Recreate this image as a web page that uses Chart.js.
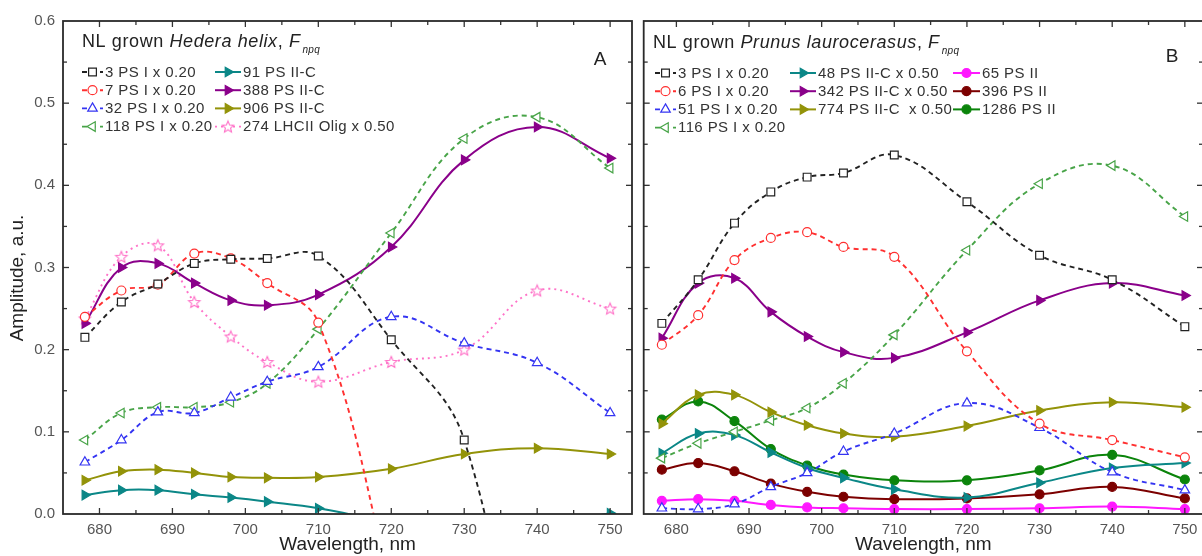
<!DOCTYPE html>
<html><head><meta charset="utf-8">
<script src="https://cdn.jsdelivr.net/npm/chart.js@4/dist/chart.umd.min.js"></script>
<style>
html,body{margin:0;padding:0;background:#fff;overflow:hidden;width:1202px;height:556px;}
#wrap{position:relative;width:1202px;height:556px;overflow:hidden;background:#fff;}
canvas{position:absolute;top:0;}
#cA{left:0;}
#cB{left:637px;}
</style></head><body>
<div id="wrap"><canvas id="cA" width="640" height="556"></canvas><canvas id="cB" width="575" height="556"></canvas></div>
<script>
const FONT = "'Liberation Sans', Arial, sans-serif";

// ---- shared axes ----
const wavelengths = [678, 683, 688, 693, 698, 703, 710, 720, 730, 740, 750];
const xTicks = [680, 690, 700, 710, 720, 730, 740, 750];
const xMinorTicks = [675, 685, 695, 705, 715, 725, 735, 745];
const yTicks = [0, 0.1, 0.2, 0.3, 0.4, 0.5, 0.6];
const yTickLabels = ['0.0', '0.1', '0.2', '0.3', '0.4', '0.5', '0.6'];
const yMinorTicks = [0.05, 0.15, 0.25, 0.35, 0.45, 0.55];

// ---- panel A: Hedera helix ----
const labelsA = ['3 PS I x 0.20', '7 PS I x 0.20', '32 PS I x 0.20', '118 PS I x 0.20',
                 '91 PS II-C', '388 PS II-C', '906 PS II-C', '274 LHCII Olig x 0.50'];
const a_psI_3    = [0.215, 0.258, 0.280, 0.305, 0.310, 0.311, 0.314, 0.212, 0.090, -0.35, -0.70];
const a_psI_7    = [0.240, 0.272, 0.279, 0.317, 0.311, 0.281, 0.233, -0.09, -0.45, -0.80, -1.00];
const a_psI_32   = [0.063, 0.090, 0.124, 0.123, 0.142, 0.161, 0.179, 0.240, 0.208, 0.184, 0.123];
const a_psI_118  = [0.090, 0.123, 0.130, 0.130, 0.136, 0.159, 0.225, 0.342, 0.457, 0.483, 0.421];
const a_psIIC_91 = [0.023, 0.029, 0.029, 0.024, 0.020, 0.015, 0.007, -0.010, -0.020, -0.015, 0.001];
const a_psIIC_388= [0.232, 0.300, 0.305, 0.281, 0.260, 0.254, 0.267, 0.325, 0.431, 0.471, 0.433];
const a_psIIC_906= [0.041, 0.052, 0.054, 0.050, 0.045, 0.044, 0.045, 0.055, 0.073, 0.080, 0.073];
const a_lhcii_274= [0.238, 0.313, 0.327, 0.258, 0.216, 0.185, 0.161, 0.185, 0.200, 0.272, 0.250];

// ---- panel B: Prunus laurocerasus ----
const labelsB = ['3 PS I x 0.20', '6 PS I x 0.20', '51 PS I x 0.20', '116 PS I x 0.20',
                 '48 PS II-C x 0.50', '342 PS II-C x 0.50', '774 PS II-C  x 0.50',
                 '65 PS II', '396 PS II', '1286 PS II'];
const b_psI_3     = [0.232, 0.285, 0.354, 0.392, 0.410, 0.415, 0.437, 0.380, 0.315, 0.285, 0.228];
const b_psI_6     = [0.206, 0.242, 0.309, 0.336, 0.343, 0.325, 0.313, 0.198, 0.110, 0.090, 0.069];
const b_psI_51    = [0.007, 0.006, 0.012, 0.033, 0.050, 0.076, 0.098, 0.135, 0.105, 0.051, 0.029];
const b_psI_116   = [0.068, 0.086, 0.100, 0.114, 0.129, 0.159, 0.218, 0.321, 0.402, 0.424, 0.362];
const b_psIIC_48  = [0.074, 0.098, 0.096, 0.075, 0.056, 0.044, 0.030, 0.020, 0.038, 0.056, 0.062];
const b_psIIC_342 = [0.214, 0.281, 0.287, 0.246, 0.216, 0.197, 0.190, 0.221, 0.260, 0.281, 0.266];
const b_psIIC_774 = [0.110, 0.145, 0.145, 0.124, 0.108, 0.098, 0.094, 0.107, 0.126, 0.136, 0.130];
const b_psII_65   = [0.016, 0.018, 0.016, 0.011, 0.008, 0.007, 0.006, 0.006, 0.007, 0.009, 0.006];
const b_psII_396  = [0.054, 0.062, 0.052, 0.037, 0.027, 0.021, 0.018, 0.019, 0.024, 0.033, 0.019];
const b_psII_1286 = [0.115, 0.137, 0.113, 0.079, 0.059, 0.048, 0.041, 0.041, 0.053, 0.072, 0.042];

const COL = { black:'#222222', red:'#ff3030', blue:'#3434f2', green:'#48a448', teal:'#0b8787',
  purple:'#8a008a', olive:'#939309', pink:'#ff72c8', magenta:'#ff18ff', darkred:'#7c0000', dgreen:'#0b840b' };

function starImg(color, r) {
  const s = Math.ceil(r * 2 + 4);
  const c = document.createElement('canvas'); c.width = s; c.height = s;
  const g = c.getContext('2d'); g.translate(s / 2, s / 2 + 0.5);
  g.beginPath();
  for (let i = 0; i < 10; i++) {
    const rr = i % 2 ? r * 0.45 : r, a = -Math.PI / 2 + i * Math.PI / 5;
    g.lineTo(rr * Math.cos(a), rr * Math.sin(a));
  }
  g.closePath(); g.fillStyle = '#fff'; g.fill(); g.strokeStyle = color; g.lineWidth = 1.1; g.stroke();
  return c;
}

const M = {
  sq: { style: 'rect', r: 5.5, filled: false },
  ci: { style: 'circle', r: 4.5, filled: false },
  up: { style: 'triangle', r: 5.5, filled: false, rot: 0 },
  lt: { style: 'triangle', r: 5.5, filled: false, rot: 270 },
  rt: { style: 'triangle', r: 5.5, filled: true, rot: 90 },
  dot:{ style: 'circle', r: 4.5, filled: true },
};

function mk(label, vals, color, line, m) {
  return {
    label,
    data: wavelengths.map((w, i) => ({ x: w, y: vals[i] })),
    borderColor: color, backgroundColor: color,
    borderWidth: line === 'solid' ? 2 : 1.9,
    borderDash: line === 'dash' ? [5, 4] : line === 'dot' ? [2, 4] : [],
    tension: 0.4,
    pointStyle: m.style, pointRotation: m.rot || 0, pointRadius: m.r,
    pointBackgroundColor: m.filled ? color : '#fff', pointBorderColor: color, pointBorderWidth: 1.2,
    clip: { left: 8, right: 8, top: 8, bottom: 0 },
  };
}

const starPink = starImg(COL.pink, 6);

const datasetsA = [
  mk(labelsA[0], a_psI_3, COL.black, 'dash', M.sq),
  mk(labelsA[1], a_psI_7, COL.red, 'dash', M.ci),
  mk(labelsA[2], a_psI_32, COL.blue, 'dash', M.up),
  mk(labelsA[3], a_psI_118, COL.green, 'dash', M.lt),
  mk(labelsA[4], a_psIIC_91, COL.teal, 'solid', M.rt),
  mk(labelsA[5], a_psIIC_388, COL.purple, 'solid', M.rt),
  mk(labelsA[6], a_psIIC_906, COL.olive, 'solid', M.rt),
  mk(labelsA[7], a_lhcii_274, COL.pink, 'dot', { style: starPink, r: 6, filled: false }),
];
const datasetsB = [
  mk(labelsB[0], b_psI_3, COL.black, 'dash', M.sq),
  mk(labelsB[1], b_psI_6, COL.red, 'dash', M.ci),
  mk(labelsB[2], b_psI_51, COL.blue, 'dash', M.up),
  mk(labelsB[3], b_psI_116, COL.green, 'dash', M.lt),
  mk(labelsB[4], b_psIIC_48, COL.teal, 'solid', M.rt),
  mk(labelsB[5], b_psIIC_342, COL.purple, 'solid', M.rt),
  mk(labelsB[6], b_psIIC_774, COL.olive, 'solid', M.rt),
  mk(labelsB[7], b_psII_65, COL.magenta, 'solid', M.dot),
  mk(labelsB[8], b_psII_396, COL.darkred, 'solid', M.dot),
  mk(labelsB[9], b_psII_1286, COL.dgreen, 'solid', M.dot),
];

// layout specs (canvas coordinates)
const specs = {
  cA: {
    title: { x: 82, y: 42, parts: [['NL grown ', 0], ['Hedera helix', 1], [', ', 0], ['F', 1]], sub: 'npq' },
    label: { t: 'A', x: 600, y: 60 },
    rows: { y0: 72, dy: 18.2 },
    cols: [ { x: 82, len: 21, items: [0, 1, 2, 3] }, { x: 215, len: 26, items: [4, 5, 6, 7] } ],
    yTitle: true,
  },
  cB: {
    title: { x: 16, y: 43, parts: [['NL grown ', 0], ['Prunus laurocerasus', 1], [', ', 0], ['F', 1]], sub: 'npq' },
    label: { t: 'B', x: 535, y: 57 },
    rows: { y0: 73, dy: 18.2 },
    cols: [ { x: 18, len: 21, items: [0, 1, 2, 3] }, { x: 153, len: 26, items: [4, 5, 6] }, { x: 316, len: 27, items: [7, 8, 9] } ],
    yTitle: false,
  }
};

function drawMarker(ctx, style, rot, x, y, r, fill, stroke) {
  ctx.save(); ctx.setLineDash([]); ctx.lineWidth = 1.2; ctx.fillStyle = fill; ctx.strokeStyle = stroke;
  if (style instanceof HTMLCanvasElement) { ctx.drawImage(style, x - style.width / 2, y - style.height / 2); ctx.restore(); return; }
  ctx.beginPath();
  if (style === 'rect') { const s = Math.SQRT1_2 * r; ctx.rect(x - s, y - s, 2 * s, 2 * s); }
  else if (style === 'circle') { ctx.arc(x, y, r, 0, Math.PI * 2); }
  else if (style === 'triangle') {
    let a = (rot || 0) * Math.PI / 180;
    for (let k = 0; k < 3; k++) { const px = x + Math.sin(a) * r, py = y - Math.cos(a) * r; if (k) ctx.lineTo(px, py); else ctx.moveTo(px, py); a += 2 * Math.PI / 3; }
    ctx.closePath();
  }
  ctx.fill(); ctx.stroke(); ctx.restore();
}

const panelPlugin = {
  id: 'panelDeco',
  afterDraw(chart) {
    const sp = specs[chart.canvas.id];
    const { ctx, chartArea: a } = chart;
    const xs = chart.scales.x, ys = chart.scales.y;
    ctx.save();
    ctx.strokeStyle = '#333'; ctx.lineWidth = 1.3; ctx.setLineDash([]);
    const seg = (x1, y1, x2, y2) => { ctx.beginPath(); ctx.moveTo(x1, y1); ctx.lineTo(x2, y2); ctx.stroke(); };
    const xt = (v, L) => { const p = xs.getPixelForValue(v); if (p < a.left + 1 || p > a.right - 1) return; seg(p, a.bottom, p, a.bottom - L); seg(p, a.top, p, a.top + L); };
    const yt = (v, L) => { const p = ys.getPixelForValue(v); if (p < a.top + 1 || p > a.bottom - 1) return; seg(a.left, p, a.left + L, p); seg(a.right, p, a.right - L, p); };
    xTicks.forEach(v => xt(v, 6)); xMinorTicks.forEach(v => xt(v, 4));
    yTicks.forEach(v => yt(v, 6)); yMinorTicks.forEach(v => yt(v, 4));
    ctx.lineWidth = 1.8; ctx.strokeStyle = '#2a2a2a';
    ctx.strokeRect(a.left, a.top, a.right - a.left, a.bottom - a.top);

    // panel letter
    ctx.fillStyle = '#222'; ctx.textBaseline = 'middle'; ctx.textAlign = 'center';
    ctx.font = `19px ${FONT}`;
    ctx.fillText(sp.label.t, sp.label.x, sp.label.y);

    // title with italics & subscript
    ctx.textAlign = 'left'; ctx.letterSpacing = '0.6px';
    let tx = sp.title.x;
    sp.title.parts.forEach(([t, it]) => {
      ctx.font = `${it ? 'italic ' : ''}18px ${FONT}`;
      ctx.fillText(t, tx, sp.title.y); tx += ctx.measureText(t).width;
    });
    ctx.font = `italic 10px ${FONT}`; ctx.letterSpacing = '0.3px';
    ctx.fillText(sp.title.sub, tx + 2, sp.title.y + 8);

    // legend
    ctx.font = `15px ${FONT}`; ctx.letterSpacing = '0.4px'; ctx.fillStyle = '#333';
    sp.cols.forEach(col => {
      col.items.forEach((di, r) => {
        const ds = chart.data.datasets[di];
        const y = sp.rows.y0 + r * sp.rows.dy;
        ctx.save();
        ctx.strokeStyle = ds.borderColor; ctx.lineWidth = ds.borderWidth; ctx.setLineDash(ds.borderDash || []);
        seg(col.x, y, col.x + col.len, y);
        ctx.restore();
        drawMarker(ctx, ds.pointStyle, ds.pointRotation, col.x + col.len / 2, y, ds.pointRadius,
                   ds.pointBackgroundColor, ds.pointBorderColor);
        ctx.fillStyle = '#333';
        ctx.fillText(ds.label, col.x + col.len + 2, y + 0.5);
      });
    });

    if (sp.yTitle) {
      ctx.letterSpacing = '0px';
      ctx.translate(18, 278); ctx.rotate(-Math.PI / 2);
      ctx.font = `19px ${FONT}`; ctx.fillStyle = '#222'; ctx.textAlign = 'center';
      ctx.fillText('Amplitude, a.u.', 0, 0);
    }
    ctx.restore();
  }
};

function makeChart(id, datasets, xmin, xmax, showY, padding) {
  return new Chart(document.getElementById(id), {
    type: 'line',
    data: { datasets },
    options: {
      responsive: false, animation: false, events: [],
      layout: { padding },
      plugins: { legend: { display: false }, tooltip: { enabled: false } },
      scales: {
        x: {
          type: 'linear', min: xmin, max: xmax,
          afterBuildTicks: s => { s.ticks = xTicks.map(v => ({ value: v })); },
          afterFit: s => { s.height = 42; },
          grid: { display: false, drawTicks: false }, border: { display: false },
          ticks: { font: { family: FONT, size: 15 }, color: '#555', padding: 7, maxRotation: 0, autoSkip: false, callback: v => String(v) },
          title: { display: true, text: 'Wavelength, nm', font: { family: FONT, size: 19 }, color: '#222', padding: { top: 0, bottom: 0 } },
        },
        y: {
          type: 'linear', min: 0, max: 0.6,
          afterBuildTicks: s => { s.ticks = yTicks.map(v => ({ value: v })); },
          afterFit: s => { s.width = showY ? 63 : 5; },
          grid: { display: false, drawTicks: false }, border: { display: false },
          ticks: { display: showY, font: { family: FONT, size: 15 }, color: '#555', padding: 8, callback: (v, i) => yTickLabels[i] },
        }
      }
    },
    plugins: [panelPlugin]
  });
}

makeChart('cA', datasetsA, 675, 753, true, { left: 0, right: 8, top: 21, bottom: 0 });
makeChart('cB', datasetsB, 675.5, 752.5, false, { left: 0, right: 9, top: 21, bottom: 0 });
</script>
</body></html>
